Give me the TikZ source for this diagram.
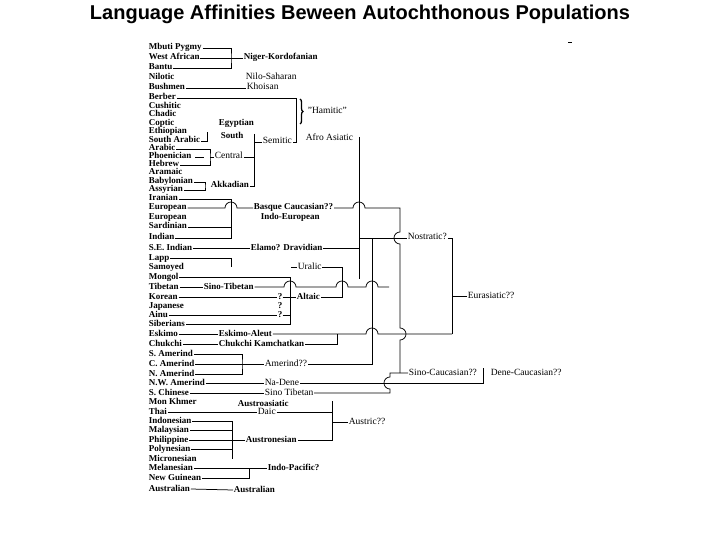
\documentclass[tikz,border=0pt]{standalone}
\usepackage{fontspec}
\setmainfont{Liberation Serif}
\newfontfamily\titlefont{Liberation Sans}
\usetikzlibrary{decorations.pathreplacing}
\begin{document}
\begin{tikzpicture}[x=1pt,y=-1pt,line width=0.75pt,
  lf/.style={anchor=west,inner sep=0.5pt,text height=6pt,text depth=2pt,font=\bfseries\fontsize{9}{10}\selectfont},
  gr/.style={anchor=west,inner sep=0.5pt,text height=6pt,text depth=2pt,font=\fontsize{9.5}{10}\selectfont},
  qm/.style={inner sep=0pt,font=\bfseries\fontsize{9}{10}\selectfont}]
\useasboundingbox (0,0) rectangle (720,540);
\node[font=\titlefont\bfseries\fontsize{20}{22}\selectfont] (title) at (360,14) {Language Affinities Beween Autochthonous Populations};
\coordinate (tickA) at (568,42); \coordinate (tickB) at (572,42);
\draw[line width=0.5pt] (tickA) -- (tickB);
% leaves
\node[lf] (mbuti) at (148,48) {Mbuti Pygmy};
\node[lf] (westaf) at (148,58) {West African};
\node[lf] (bantu) at (148,68) {Bantu};
\node[lf] (nilotic) at (148,78) {Nilotic};
\node[lf] (bushmen) at (148,88) {Bushmen};
\node[lf] (berber) at (148,98) {Berber};
\node[lf] (cushitic) at (148,107) {Cushitic};
\node[lf] (chadic) at (148,115) {Chadic};
\node[lf] (coptic) at (148,124) {Coptic};
\node[lf] (ethiop) at (148,132) {Ethiopian};
\node[lf] (sarabic) at (148,141) {South Arabic};
\node[lf] (arabic) at (148,149) {Arabic};
\node[lf] (phoen) at (148,157) {Phoenician};
\node[lf] (hebrew) at (148,165) {Hebrew};
\node[lf] (aramaic) at (148,173) {Aramaic};
\node[lf] (babylon) at (148,182) {Babylonian};
\node[lf] (assyr) at (148,190) {Assyrian};
\node[lf] (iranian) at (148,199) {Iranian};
\node[lf] (europA) at (148,208) {European};
\node[lf] (europB) at (148,217) {European};
\node[lf] (sardin) at (148,227) {Sardinian};
\node[lf] (indian) at (148,238) {Indian};
\node[lf] (seindian) at (148,248) {S.E. Indian};
\node[lf] (lapp) at (148,258) {Lapp};
\node[lf] (samoyed) at (148,267) {Samoyed};
\node[lf] (mongol) at (148,277) {Mongol};
\node[lf] (tibetan) at (148,287) {Tibetan};
\node[lf] (korean) at (148,297) {Korean};
\node[lf] (japanese) at (148,306) {Japanese};
\node[lf] (ainu) at (148,315) {Ainu};
\node[lf] (siber) at (148,324) {Siberians};
\node[lf] (eskimo) at (148,334) {Eskimo};
\node[lf] (chukchi) at (148,344) {Chukchi};
\node[lf] (samer) at (148,354) {S. Amerind};
\node[lf] (camer) at (148,364) {C. Amerind};
\node[lf] (namer) at (148,374) {N. Amerind};
\node[lf] (nwamer) at (148,383) {N.W. Amerind};
\node[lf] (schin) at (148,393) {S. Chinese};
\node[lf] (monkh) at (148,402) {Mon Khmer};
\node[lf] (thai) at (148,412) {Thai};
\node[lf] (indon) at (148,421) {Indonesian};
\node[lf] (malay) at (148,430) {Malaysian};
\node[lf] (philip) at (148,440) {Philippine};
\node[lf] (polyn) at (148,449) {Polynesian};
\node[lf] (micro) at (148,459) {Micronesian};
\node[lf] (melan) at (148,468) {Melanesian};
\node[lf] (newg) at (148,478) {New Guinean};
\node[lf] (austl) at (148,489) {Australian};
% groups
\node[lf] (nk) at (243,58) {Niger-Kordofanian};
\node[gr] (nilosah) at (245,78) {Nilo-Saharan};
\node[gr] (khoisan) at (246,88) {Khoisan};
\node[gr] (hamitic) at (307,112) {"Hamitic"};
\node[lf] (egypt) at (218,124) {Egyptian};
\node[lf] (south) at (220,137) {South};
\node[gr] (semitic) at (262,142) {Semitic};
\node[gr] (afroas) at (305,139) {Afro Asiatic};
\node[gr] (central) at (214,157) {Central};
\node[lf] (akkad) at (210,186) {Akkadian};
\node[lf] (basque) at (253,208) {Basque Caucasian??};
\node[lf] (indoeur) at (260,218) {Indo-European};
\node[lf] (elamo) at (250,248) {Elamo? Dravidian};
\node[gr] (nostr) at (407,238) {Nostratic?};
\node[gr] (uralic) at (297,267) {Uralic};
\node[lf] (sinotib) at (203,287) {Sino-Tibetan};
\node[qm] (qA) at (280,297) {?};
\node[qm] (qB) at (280,306) {?};
\node[qm] (qC) at (280,315) {?};
\node[lf] (altaic) at (296,297) {Altaic};
\node[gr] (eurasia) at (467,296) {Eurasiatic??};
\node[lf] (eskal) at (218,334) {Eskimo-Aleut};
\node[lf] (chukk) at (218,344) {Chukchi Kamchatkan};
\node[gr] (amerind) at (264,364) {Amerind??};
\node[gr] (nadene) at (264,383) {Na-Dene};
\node[gr] (sinotibB) at (264,393) {Sino Tibetan};
\node[gr] (sinocauc) at (408,373) {Sino-Caucasian??};
\node[gr] (denecauc) at (490,373) {Dene-Caucasian??};
\node[lf] (austroas) at (237,404) {Austroasiatic};
\node[gr] (daic) at (257,412) {Daic};
\node[gr] (austric) at (348,422) {Austric??};
\node[lf] (austron) at (245,440) {Austronesian};
\node[lf] (indopac) at (267,468) {Indo-Pacific?};
\node[lf] (austlB) at (233,490) {Australian};
% junction coordinates
\coordinate (vNK) at (231,58);
\coordinate (saTop) at (207,132);
\coordinate (vCen) at (210,157);
\coordinate (semTop) at (254,134);
\coordinate (semBot) at (254,187);
\coordinate (hamTop) at (296,98);
\coordinate (aaTop) at (359,137);
\coordinate (aaBot) at (359,279);
\coordinate (ieTop) at (231,199);
\coordinate (basR) at (400,208);
\coordinate (nsV) at (372,238);
\coordinate (eaBot) at (452,334);
\coordinate (lappEnd) at (231,267);
\coordinate (uraStart) at (291,267);
\coordinate (uaBot) at (342,297);
\coordinate (altV) at (290,324);
\coordinate (stEnd) at (389,287);
\coordinate (ckV) at (337,334);
\coordinate (amV) at (242,364);
\coordinate (dcTop) at (483,368);
\coordinate (scJ) at (390,373);
\coordinate (auTop) at (332,401);
\coordinate (auBot) at (332,440);
\coordinate (anBot) at (232,459);
\coordinate (ipV) at (249,468);
\coordinate (ainuEnd) at (290,315);
% Niger-Kordofanian, Khoisan
\draw (mbuti.east) -| (vNK) |- (bantu.east);
\draw (westaf.east) -- (nk.west);
\draw (bushmen.east) -- (khoisan.west);
% Afro-Asiatic
\draw (berber.east) -- (hamTop) |- (semitic.east);
\draw[line width=1.3pt,decorate,decoration={brace,amplitude=3pt}] (300,99) -- (300,124);
\draw (sarabic.east) -| (saTop);
\draw (arabic.east) -| (vCen) |- (hebrew.east);
\draw (vCen) -- (central.west);
\draw ([xshift=3pt]phoen.east) -- ([xshift=12pt]phoen.east);
\draw (semTop) -- (semBot);
\draw (central.east) -- (central.east -| semTop);
\draw (semTop |- semitic.west) -- (semitic.west);
\draw (babylon.east) -| (205,186) |- (assyr.east);
\draw (akkad.east) -- (semBot |- akkad.east);
\draw (aaTop) -- (aaBot);
% Indo-European and Basque
\draw (iranian.east) -- (ieTop) -- (ieTop |- indian.east) -- (indian.east);
\draw (sardin.east) -- (sardin.east -| ieTop);
\draw (europA.east) -- (225,208) arc(180:360:6) -- (basque.west);
\draw (basque.east) -- (353,208) arc(180:360:6) -- (basR) -- (400,232) arc(270:90:6) -- (400,328) arc(-90:90:6) -- (400,373);
\draw (seindian.east) -- (elamo.west);
\draw (elamo.east) -- (elamo.east -| aaTop);
% Nostratic, Eurasiatic
\draw (aaTop |- nostr.west) -- (nostr.west);
\draw (nsV) -- (amerind.east -| nsV) -- (amerind.east);
\draw (nostr.east) -| (eaBot);
\draw (eurasia.west) -- (eurasia.west -| eaBot);
% Uralic / Altaic / Sino-Tibetan
\draw (lapp.east) -| (lappEnd);
\draw (uraStart) -- (uralic.west);
\draw (uralic.east) -| (uaBot) -- (altaic.east);
\draw (mongol.east) -| (altV) -- (siber.east);
\draw (tibetan.east) -- (sinotib.west);
\draw (sinotib.east) -- (284,287) arc(180:360:6) -- (336,287) arc(180:360:6) -- (366,287) arc(180:360:6) -- (stEnd);
\draw (korean.east) -- (qA.west);
\draw (qA.east) -- (altaic.west);
\draw (ainu.east) -- (qC.west);
\draw (qC.east) -- (ainuEnd);
% Eskimo / Chukchi
\draw (eskimo.east) -- (eskal.west);
\draw (eskal.east) -- (366,334) arc(180:360:6) -- (eaBot);
\draw (chukchi.east) -- (chukk.west);
\draw (chukk.east) -| (ckV);
% Amerind, Na-Dene, Sino-Tibetan
\draw (samer.east) -| (amV) |- (namer.east);
\draw (camer.east) -- (amerind.west);
\draw (nwamer.east) -- (nadene.west);
\draw (nadene.east) -| (dcTop);
\draw (schin.east) -- (sinotibB.west);
\draw (sinotibB.east) -- (390,393) -- (390,389) arc(90:270:6) -- (scJ) -- (sinocauc.west);
% Austric
\draw (thai.east) -- (daic.west);
\draw (daic.east) -- (daic.east -| auTop);
\draw (auTop) -- (auBot) -- (austron.east);
\draw (auTop |- austric.west) -- (austric.west);
\draw (indon.east) -| (anBot);
\draw (malay.east) -- (malay.east -| anBot);
\draw (philip.east) -- (philip.east -| anBot);
\draw (polyn.east) -- (polyn.east -| anBot);
\draw (anBot |- austron.west) -- (austron.west);
% Indo-Pacific, Australian
\draw (melan.east) -- (indopac.west);
\draw (newg.east) -| (ipV);
\draw (austl.east) -- (austlB.west);
\end{tikzpicture}
\end{document}
